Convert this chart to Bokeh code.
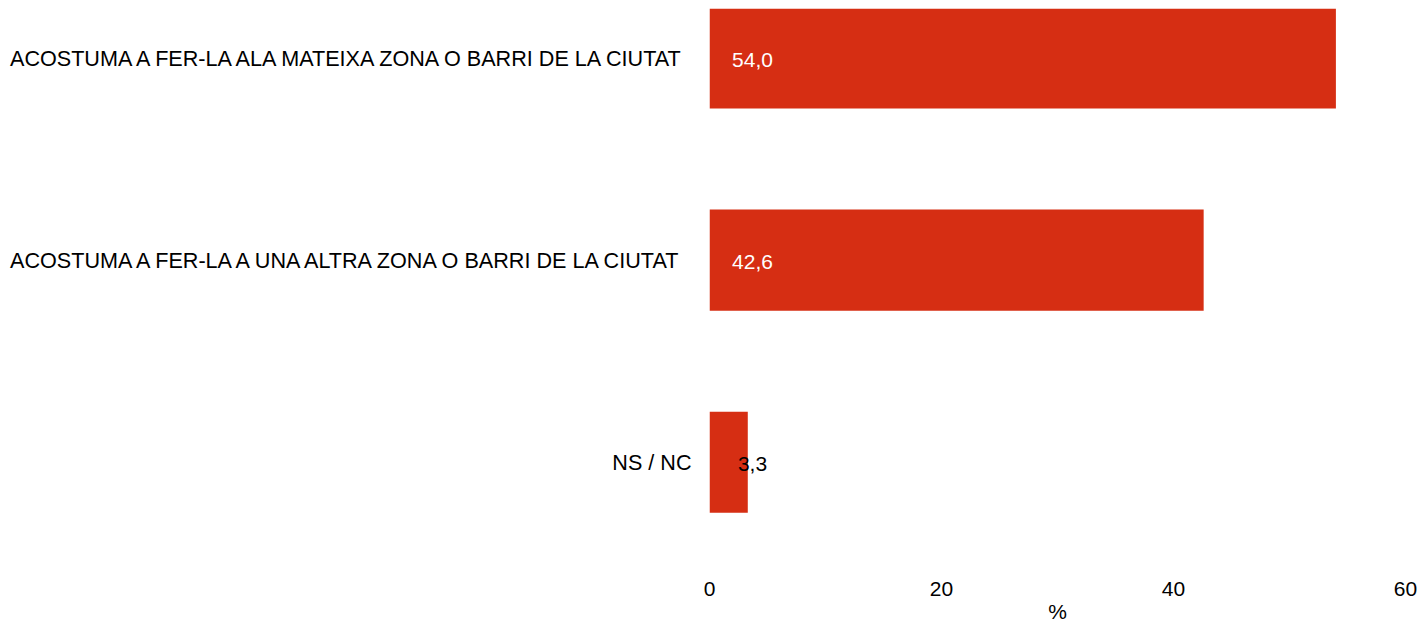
from bokeh.plotting import figure
from bokeh.models import ColumnDataSource, Range1d, FixedTicker
from bokeh.embed import file_html
from bokeh.resources import INLINE

categories = [
    "ACOSTUMA A FER-LA ALA MATEIXA ZONA O BARRI DE LA CIUTAT",
    "ACOSTUMA A FER-LA A UNA ALTRA ZONA O BARRI DE LA CIUTAT",
    "NS / NC",
]
values = [54.0, 42.6, 3.3]
x_ticks = [0, 20, 40, 60]

ypos = list(range(len(categories)))
labels = [f"{v:.1f}".replace(".", ",") for v in values]
label_colors = ["white" if v > 10 else "black" for v in values]

src = ColumnDataSource(dict(y=ypos, v=values, lab=labels, col=label_colors,
                            zero=[0] * len(values)))

FONT = "Liberation Sans"

p = figure(width=1420, height=625, output_backend="svg", toolbar_location=None,
           x_range=Range1d(0, 60), y_range=Range1d(2.575, -0.245),
           min_border_left=709, min_border_right=15, min_border_top=8,
           min_border_bottom=0)
p.outline_line_color = None
p.xgrid.visible = False
p.ygrid.visible = False

p.hbar(y="y", left=0, right="v", height=0.5, source=src,
       fill_color="#D62E13", line_color=None)
p.text(x="zero", y="y", text="lab", source=src, text_color="col",
       text_align="center", text_baseline="middle", x_offset=43, y_offset=2,
       text_font_size="21px", text_font={"value": FONT})

p.yaxis.ticker = FixedTicker(ticks=ypos)
p.yaxis.major_label_overrides = {i: c for i, c in zip(ypos, categories)}
p.yaxis.axis_line_color = None
p.yaxis.major_tick_line_color = None
p.yaxis.minor_tick_line_color = None
p.yaxis.major_tick_out = 0
p.yaxis.major_label_standoff = 18
p.yaxis.major_label_text_font_size = "21.6px"
p.yaxis.major_label_text_font = FONT
p.yaxis.major_label_text_color = "black"

p.xaxis.ticker = FixedTicker(ticks=x_ticks)
p.xaxis.axis_line_color = None
p.xaxis.major_tick_line_color = None
p.xaxis.minor_tick_line_color = None
p.xaxis.major_tick_out = 0
p.xaxis.major_label_standoff = 3
p.xaxis.major_label_text_font_size = "21px"
p.xaxis.major_label_text_font = FONT
p.xaxis.major_label_text_color = "black"
p.xaxis.axis_label = "%"
p.xaxis.axis_label_text_font_style = "normal"
p.xaxis.axis_label_text_font_size = "21px"
p.xaxis.axis_label_text_font = FONT
p.xaxis.axis_label_text_color = "black"
p.xaxis.axis_label_standoff = 1

open("out.html", "w").write(file_html(p, INLINE))
